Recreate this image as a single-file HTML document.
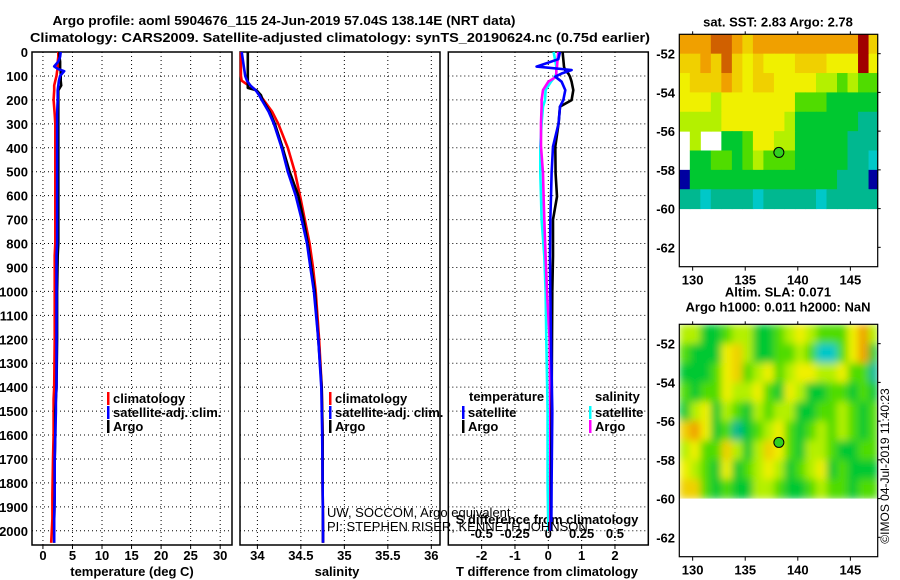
<!DOCTYPE html>
<html><head><meta charset="utf-8">
<style>
html,body{margin:0;padding:0;background:#fff;}
svg{display:block;font-family:"Liberation Sans",Arial,sans-serif;}
.t{font-weight:bold;font-size:13px;}
</style></head>
<body>
<svg id="c" width="900" height="580" viewBox="0 0 900 580" xmlns="http://www.w3.org/2000/svg">
<defs>
<filter id="blur" x="0" y="0" width="100%" height="100%"><feGaussianBlur stdDeviation="4" edgeMode="duplicate"/></filter>
</defs>
<text class="t" x="284" y="25" text-anchor="middle" font-size="14" textLength="463" lengthAdjust="spacingAndGlyphs">Argo profile: aoml 5904676_115 24-Jun-2019 57.04S 138.14E (NRT data)</text>
<text class="t" x="340" y="42" text-anchor="middle" font-size="14" textLength="620" lengthAdjust="spacingAndGlyphs">Climatology: CARS2009. Satellite-adjusted climatology: synTS_20190624.nc (0.75d earlier)</text>
<g id="root"></g>
</svg>
<script>
// ---------- data ----------
const depthTicks=[0,100,200,300,400,500,600,700,800,900,1000,1100,1200,1300,1400,1500,1600,1700,1800,1900,2000];
const tempTicks=[0,5,10,15,20,25,30];
const salTicks=[34,34.5,35,35.5,36];
const salTickLabels=["34","34.5","35","35.5","36"];
const tdiffTicks=[-2,-1,0,1,2];
const sdiffTicks=[-0.5,-0.25,0,0.25,0.5];
const sdiffTickLabels=["-0.5","-0.25","0","0.25","0.5"];

const depthT=[0,20,40,60,70,80,100,120,140,160,200,260,300,400,600,800,850,1000,1200,1400,1450,1500,1600,1700,1850,1950,2000,2050];
const tempClim=[2.6,2.6,2.5,2.5,2.5,2.4,2.3,2.1,1.9,1.9,1.8,2.0,2.1,2.1,2.1,2.1,2.0,2.0,2.0,1.9,1.8,1.8,1.8,1.7,1.6,1.6,1.5,1.4];
const tempSat=[3.0,2.9,2.6,1.9,2.5,3.6,2.9,2.7,2.6,2.5,2.5,2.4,2.4,2.4,2.4,2.4,2.3,2.3,2.3,2.3,2.2,2.2,2.1,2.0,2.0,1.9,1.9,1.9];
const tempArgo=[2.8,2.8,2.9,2.9,2.9,3.0,3.0,3.0,3.1,2.6,2.6,2.6,2.6,2.6,2.6,2.6,2.5,2.4,2.4,2.3,2.2,2.1,2.1,2.0,2.0,1.9,1.9,1.9];

const depthS=[0,100,120,140,150,160,180,200,250,300,400,500,600,700,800,900,1000,1200,1400,1600,1800,2000,2050];
const salClim=[33.81,33.81,33.82,33.9,33.95,33.98,34.03,34.07,34.17,34.24,34.35,34.43,34.49,34.545,34.60,34.64,34.67,34.71,34.74,34.75,34.75,34.755,34.755];
const salSat=[33.82,33.86,33.88,33.92,33.95,33.98,34.02,34.05,34.13,34.19,34.28,34.35,34.44,34.51,34.57,34.61,34.65,34.70,34.735,34.745,34.75,34.755,34.755];
const salArgo=[33.89,33.89,33.89,33.89,33.89,33.99,34.04,34.06,34.14,34.20,34.29,34.37,34.47,34.53,34.58,34.62,34.66,34.70,34.74,34.75,34.75,34.755,34.755];

const depthD=[0,30,61,75,90,103,124,159,201,228,298,395,507,604,700,853,1000,1200,1500,1800,2000];
const tdiffArgo=[0.43,0.45,0.47,0.5,0.6,0.65,0.70,0.75,0.70,0.35,0.31,0.21,0.22,0.26,0.14,0.14,0.12,0.11,0.1,0.08,0.08];
const tdiffSat=[0.35,0.3,-0.35,0.70,0.4,0.21,0.4,0.51,0.45,0.35,0.31,0.14,0.10,0.08,0.06,0.05,0.06,0.08,0.12,0.1,0.09];
const sdiffArgo=[0.075,0.07,0.065,0.06,0.06,0.06,0.0,-0.04,-0.05,-0.05,-0.055,-0.055,-0.04,-0.035,-0.03,-0.02,-0.01,0.01,0.015,0.015,0.015];
const sdiffSat=[0.04,0.05,0.06,0.06,0.06,0.05,0.02,-0.02,-0.025,-0.04,-0.05,-0.06,-0.06,-0.055,-0.05,-0.03,-0.02,-0.015,-0.005,-0.005,0.0];

const lonTicks=[130,135,140,145];
const latTicks=[-52,-54,-56,-58,-60,-62];
const argoLon=138.2, argoLat=-57.1;
const sstGrid=[
[8,8,8,9,9,8,7,8,8,8,8,8,8,8,8,8,8,10,7],
[7,7,8,7,9,7,6,7,6,6,6,7,7,7,6,6,6,10,6],
[6,7,7,7,8,7,6,7,7,6,6,6,6,5,5,4,5,4,4],
[6,6,6,5,6,6,6,6,6,6,6,4,4,4,3,3,3,3,3],
[5,5,5,5,6,6,6,6,6,6,5,3,3,3,3,3,3,2,2],
[-1,5,-1,-1,3,3,4,6,6,5,5,3,3,3,3,3,2,2,2],
[-1,3,3,4,4,3,4,5,4,4,4,3,3,3,3,3,2,2,1],
[0,3,3,3,3,3,3,3,3,3,3,3,3,3,3,2,2,2,0],
[2,2,1,2,2,2,2,1,2,2,2,2,2,1,2,2,2,2,2]];
const slaGrid=[
[5,5,3,3,4,5,5,3,3,4,5,6,5,4,4,4,6,8,5],
[4,3,3,3,6,7,5,3,3,4,4,5,4,1,1,4,6,8,3],
[3,3,3,4,6,7,4,5,6,4,5,6,6,5,5,6,4,4,2],
[4,3,4,4,6,5,5,6,4,3,6,5,3,3,4,4,3,4,3],
[3,5,6,3,5,4,3,5,4,5,5,3,3,4,4,5,4,3,4],
[7,8,6,3,4,2,3,4,5,6,4,3,4,5,4,5,4,3,4],
[5,6,4,4,7,5,3,5,7,6,4,3,5,5,4,3,3,4,4],
[6,5,4,3,6,3,4,5,6,5,3,4,5,6,3,4,3,3,3],
[7,7,4,3,4,3,3,5,5,4,3,3,4,5,4,4,3,4,4]];
const palette=["#0000a0","#00c8c8","#00b890","#00c830","#50dc00","#b4f000","#f0f000","#f0d000","#f0a000","#d06000","#a00000"];

// ---------- helpers ----------
const NS="http://www.w3.org/2000/svg";
const root=document.getElementById('root');
function mk(tag,attrs,parent){const e=document.createElementNS(NS,tag);for(const k in attrs)e.setAttribute(k,attrs[k]);(parent||root).appendChild(e);return e;}
function txt(x,y,s,anchor,parent,extra){const e=mk('text',Object.assign({x:x,y:y,'text-anchor':anchor||'middle',class:'t'},extra||{}),parent);e.textContent=s;return e;}

const TOP=52, BOT=545, DPX=0.2394;
const yD=d=>TOP+d*DPX;
const panels=[
 {x0:32,x1:232,min:-1.85,max:32,name:'temperature-panel'},
 {x0:240,x1:440,min:33.80,max:36.10,name:'salinity-panel'},
 {x0:448.3,x1:648.3,min:-3,max:3,name:'difference-panel'}];
function sx(p,v){return p.x0+(v-p.min)/(p.max-p.min)*(p.x1-p.x0);}
const sdScale=v=>548.3+v*133.3;

panels.forEach((p,i)=>{
  const g=mk('g',{});
  
  
  depthTicks.forEach(d=>{
    const l=mk('line',{x1:p.x0,x2:p.x1,y1:yD(d),y2:yD(d),stroke:'#000','stroke-width':1,'stroke-dasharray':'1 3'},g);
    
    
  });
  const vt=i===0?tempTicks:i===1?salTicks:tdiffTicks;
  vt.forEach((v,k)=>{
    const x=sx(p,v);
    const l=mk('line',{x1:x,x2:x,y1:TOP,y2:BOT,stroke:'#000','stroke-width':1,'stroke-dasharray':'1 3'},g);
    
    
    mk('line',{x1:x,x2:x,y1:BOT,y2:BOT+4,stroke:'#000'},g);
    const lab=txt(x,560,i===1?salTickLabels[k]:String(v),'middle',g);
    
    
  });
  const fr=mk('rect',{x:p.x0,y:TOP,width:p.x1-p.x0,height:BOT-TOP,fill:'none',stroke:'#000','stroke-width':1.5},g);
  
  
});
depthTicks.forEach(d=>{
  const t=txt(28,yD(d)+5,String(d),'end');
  
  
});
[['temperature (deg C)',132,'x-axis-title-temperature'],['salinity',337,'x-axis-title-salinity'],['T difference from climatology',547,'x-axis-title-tdiff']].forEach(a=>{
  const t=txt(a[1],576,a[0],'middle');
  
  
});
sdiffTicks.forEach((v,k)=>{
  const t=txt(sdScale(v),538,sdiffTickLabels[k],'middle');
  
  
});
const sdt=txt(547,524,'S difference from climatology','middle');



function line(depths,vals,fx,color,name){
  const pts=[];
  for(let i=0;i<depths.length;i++){ if(vals[i]==null)continue; pts.push(fx(vals[i]).toFixed(1)+','+yD(depths[i]).toFixed(1)); }
  const e=mk('polyline',{points:pts.join(' '),fill:'none',stroke:color,'stroke-width':2.6,'stroke-linejoin':'round'});
  
  
}
line(depthT,tempClim,v=>sx(panels[0],v),'#ff0000','temp-climatology-line');
line(depthT,tempArgo,v=>sx(panels[0],v),'#000000','temp-argo-line');
line(depthT,tempSat,v=>sx(panels[0],v),'#0000ff','temp-satellite-line');
line(depthS,salClim,v=>sx(panels[1],v),'#ff0000','salinity-climatology-line');
line(depthS,salArgo,v=>sx(panels[1],v),'#000000','salinity-argo-line');
line(depthS,salSat,v=>sx(panels[1],v),'#0000ff','salinity-satellite-line');
line(depthD,sdiffSat,sdScale,'#00ffff','sdiff-satellite-line');
line(depthD,sdiffArgo,sdScale,'#ff00ff','sdiff-argo-line');
line(depthD,tdiffArgo,v=>sx(panels[2],v),'#000000','tdiff-argo-line');
line(depthD,tdiffSat,v=>sx(panels[2],v),'#0000ff','tdiff-satellite-line');

function legend(x,y,color,label,name){
  const g=mk('g',{});
  
  
  mk('rect',{x:x,y:y-9,width:2.5,height:13,fill:color},g);
  txt(x+6,y+2,label,'start',g);
}
legend(107,401,'#ff0000','climatology','legend-temp-climatology');
legend(107,415,'#0000ff','satellite-adj. clim.','legend-temp-satellite');
legend(107,429,'#000000','Argo','legend-temp-argo');
legend(329,401,'#ff0000','climatology','legend-sal-climatology');
legend(329,415,'#0000ff','satellite-adj. clim.','legend-sal-satellite');
legend(329,429,'#000000','Argo','legend-sal-argo');
const lt=txt(469,401,'temperature','start');
const ls=txt(595,401,'salinity','start');
legend(462,415,'#0000ff','satellite','legend-tdiff-satellite');
legend(462,429,'#000000','Argo','legend-tdiff-argo');
legend(589,415,'#00ffff','satellite','legend-sdiff-satellite');
legend(589,429,'#ff00ff','Argo','legend-sdiff-argo');
const a1=txt(327,517,'UW, SOCCOM, Argo equivalent','start',null,{class:'',style:'font-size:13px'});

const a2=txt(327,531,'PI: STEPHEN RISER, KENNETH JOHNSON','start',null,{class:'',style:'font-size:13px'});


const MX0=679.3,MX1=877.7,LON0=128.73,LON1=147.6;
const mlx=l=>MX0+(l-LON0)/(LON1-LON0)*(MX1-MX0);
function drawMap(y0,grid,title1,title2,name,blur){
  const y1=y0+232.4;
  const mly=la=>y0+(-51-la)/12*(y1-y0);
  const g=mk('g',{});
  
  
  const cg=mk('g',blur?{filter:'url(#blur)'}:{},g);
  if(blur){const cl=mk('clipPath',{id:'clip'+name},g);mk('rect',{x:MX0,y:mly(-51),width:MX1-MX0,height:mly(-60)-mly(-51)},cl);cg.setAttribute('clip-path','url(#clip'+name+')');}
  grid.forEach((row,r)=>row.forEach((v,c)=>{
    if(v<0)return;
    const xa=mlx(LON0+c), xb=Math.min(mlx(LON0+c+1),MX1);
    const cell=mk('rect',{x:xa,y:mly(-51-r),width:xb-xa+0.5,height:mly(-52-r)-mly(-51-r)+0.5,fill:palette[v]},cg);
    
    
  }));
  const cir=mk('circle',{cx:mlx(argoLon),cy:mly(argoLat),r:5,fill:'#30d020',stroke:'#000','stroke-width':1},g);
  
  
  mk('rect',{x:MX0,y:y0,width:MX1-MX0,height:y1-y0,fill:'none',stroke:'#000','stroke-width':1.2},g);
  lonTicks.forEach(l=>{
    mk('line',{x1:mlx(l),x2:mlx(l),y1:y0-3,y2:y0,stroke:'#000'},g);
    mk('line',{x1:mlx(l),x2:mlx(l),y1:y1,y2:y1+4,stroke:'#000'},g);
    const t=txt(mlx(l),y1+18,String(l),'middle',g);
    
  });
  latTicks.forEach(la=>{
    mk('line',{x1:MX1,x2:MX1+3,y1:mly(la),y2:mly(la),stroke:'#000'},g);
    const t=txt(675,mly(la)+5,String(la),'end',g);
    
  });
  const t1=txt(778,title2?y0-28:y0-8,title1,'middle',g);
  
  if(title2){const t2=txt(778,y0-13,title2,'middle',g);}
}
drawMap(34.3,sstGrid,'sat. SST: 2.83 Argo: 2.78',null,'sst-map',false);
drawMap(324.3,slaGrid,'Altim. SLA: 0.071','Argo h1000: 0.011 h2000: NaN','sla-map',true);
const cr=txt(0,0,'\u00a9IMOS 04-Jul-2019 11:40:23','middle',null,{class:'',style:'font-size:12px',transform:'translate(889,466) rotate(-90)'});


</script>
</body></html>
